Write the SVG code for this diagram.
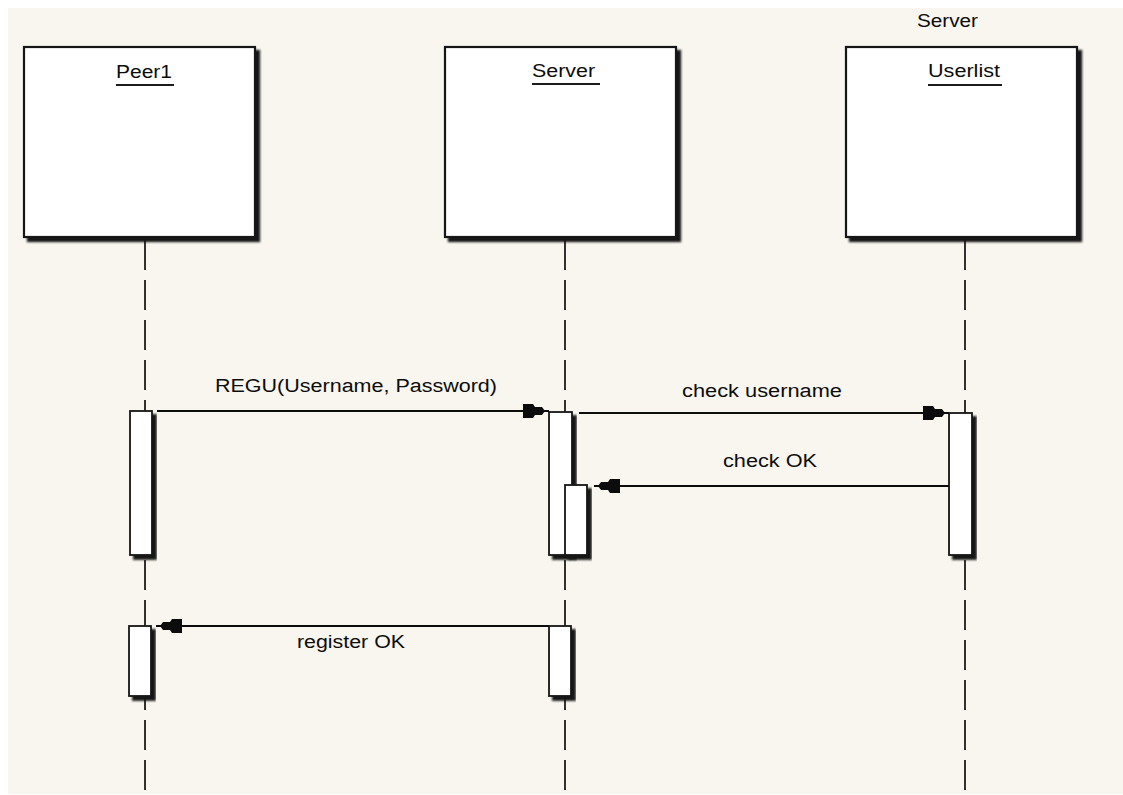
<svg xmlns="http://www.w3.org/2000/svg" width="1123" height="795" viewBox="0 0 1123 795">
  <style>
    .lbl { font-family: "Liberation Sans", Arial, sans-serif; font-size: 18px; fill: #0c0c0c; }
    .obj { fill: #fff; stroke: #141414; stroke-width: 2.2; }
    .act { fill: #fff; stroke: #141414; stroke-width: 1.8; }
    .ul { stroke: #1c1c1c; stroke-width: 2.2; }
    .life { stroke: #1c1c1c; stroke-width: 1.8; stroke-dasharray: 30 10; fill: none; }
    .msg { stroke: #0c0c0c; stroke-width: 1.8; fill: none; marker-end: url(#head); }
  </style>
  <defs>
    <filter id="shadow" x="-10%" y="-10%" width="130%" height="130%">
      <feGaussianBlur in="SourceAlpha" stdDeviation="1.3" result="b"/>
      <feOffset in="b" dx="4" dy="4" result="o"/>
      <feFlood flood-color="#141414" flood-opacity="1"/>
      <feComposite in2="o" operator="in" result="s"/>
      <feMerge>
        <feMergeNode in="s"/>
        <feMergeNode in="SourceGraphic"/>
      </feMerge>
    </filter>
    <marker id="head" markerUnits="userSpaceOnUse" viewBox="-26 -9 32 18" markerWidth="32" markerHeight="18" refX="4" refY="0" orient="auto">
      <path d="M0,0 L-3,-4 L-10,-4 L-12,-7 L-22,-7 L-22,7 L-12,7 L-10,4 L-3,4 Z" fill="#0c0c0c"/>
    </marker>
  </defs>

  <!-- canvas -->
  <rect x="0" y="0" width="1123" height="795" fill="#ffffff"/>
  <rect x="8" y="8" width="1115" height="786" fill="#f8f6ef"/>

  <!-- lifelines -->
  <g id="lifelines">
    <line class="life" x1="145" y1="240" x2="145" y2="795"/>
    <line class="life" x1="565" y1="240" x2="565" y2="795"/>
    <line class="life" x1="965" y1="240" x2="965" y2="795"/>
  </g>

  <!-- objects -->
  <g id="peer1">
    <rect class="obj" x="24" y="47" width="231" height="190" filter="url(#shadow)"/>
    <text class="lbl" x="116" y="78" textLength="56" lengthAdjust="spacingAndGlyphs">Peer1</text>
    <line class="ul" x1="116" y1="85" x2="174" y2="85"/>
  </g>

  <g id="server">
    <rect class="obj" x="445" y="47" width="231" height="190" filter="url(#shadow)"/>
    <text class="lbl" x="532" y="77" textLength="63" lengthAdjust="spacingAndGlyphs">Server</text>
    <line class="ul" x1="532" y1="84" x2="600" y2="84"/>
  </g>

  <g id="userlist">
    <text class="lbl" x="917" y="27" textLength="61" lengthAdjust="spacingAndGlyphs">Server</text>
    <rect class="obj" x="846" y="47" width="231" height="190" filter="url(#shadow)"/>
    <text class="lbl" x="928" y="77" textLength="72" lengthAdjust="spacingAndGlyphs">Userlist</text>
    <line class="ul" x1="928" y1="85" x2="1002" y2="85"/>
  </g>

  <!-- activation bars -->
  <g id="activations">
    <rect class="act" x="130" y="411" width="22" height="144" filter="url(#shadow)"/>
    <rect class="act" x="129" y="626" width="22" height="70" filter="url(#shadow)"/>
    <rect class="act" x="549" y="412" width="23" height="143" filter="url(#shadow)"/>
    <rect class="act" x="565" y="485" width="22" height="70" filter="url(#shadow)"/>
    <rect class="act" x="549" y="626" width="22" height="70" filter="url(#shadow)"/>
    <rect class="act" x="949" y="413" width="23" height="142" filter="url(#shadow)"/>
  </g>

  <!-- messages -->
  <g id="connectors">
    <line class="msg" x1="157" y1="411" x2="549" y2="411"/>
    <line class="msg" x1="579" y1="413" x2="949" y2="413"/>
    <line class="msg" x1="949" y1="486" x2="594" y2="486"/>
    <line class="msg" x1="549" y1="626" x2="156" y2="626"/>
    <text class="lbl" x="215" y="392" textLength="282" lengthAdjust="spacingAndGlyphs">REGU(Username, Password)</text>
    <text class="lbl" x="682" y="397" textLength="160" lengthAdjust="spacingAndGlyphs">check username</text>
    <text class="lbl" x="723" y="467" textLength="94" lengthAdjust="spacingAndGlyphs">check OK</text>
    <text class="lbl" x="297" y="648" textLength="108" lengthAdjust="spacingAndGlyphs">register OK</text>
  </g>
</svg>
